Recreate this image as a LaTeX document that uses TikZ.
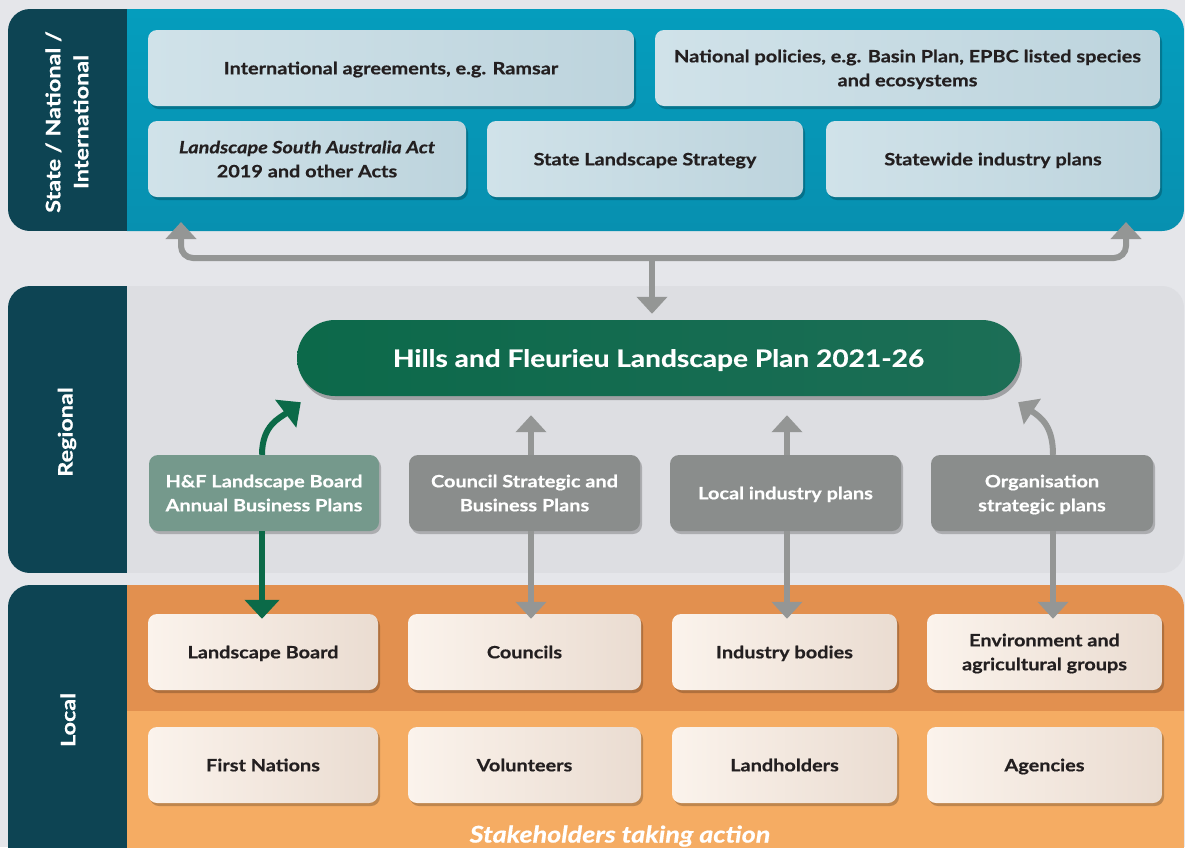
\documentclass[tikz,border=0pt]{standalone}
\usepackage{fontspec}
\setmainfont{Lato}[FakeStretch=1.17, BoldFeatures={FakeBold=0.6}, BoldItalicFeatures={FakeBold=0.6}]
\usetikzlibrary{arrows.meta,shadows,calc}

\definecolor{bgc}{HTML}{E5E6EA}
\definecolor{stripc}{HTML}{0D4453}
\definecolor{bluetop}{HTML}{059DBD}
\definecolor{bluebot}{HTML}{0790B0}
\definecolor{boxblueL}{HTML}{D0E2E9}
\definecolor{boxblueR}{HTML}{BDD4DD}
\definecolor{regpanel}{HTML}{DDDEE2}
\definecolor{pillL}{HTML}{0C694A}
\definecolor{pillR}{HTML}{1C6E56}
\definecolor{hfbox}{HTML}{75998C}
\definecolor{graybox}{HTML}{8A8D8C}
\definecolor{arrowgray}{HTML}{949695}
\definecolor{arrowgreen}{HTML}{0B6A48}
\definecolor{orangeup}{HTML}{E2904F}
\definecolor{orangelow}{HTML}{F5AC63}
\definecolor{creamL}{HTML}{FBF3EC}
\definecolor{creamR}{HTML}{EADCD1}
\definecolor{inkc}{HTML}{231F20}

\begin{document}
\begin{tikzpicture}[x=1pt,y=-1pt,
  boxtext/.style={font=\fontsize{17}{24}\selectfont\bfseries, align=center, text depth=-3pt},
  basebox/.style={rectangle, rounded corners=9pt, minimum height=76pt, inner sep=4pt, boxtext,
    drop shadow={shadow xshift=2pt, shadow yshift=-3pt, opacity=0.22, fill=black}},
  bluebox/.style={basebox, left color=boxblueL, right color=boxblueR, text=inkc},
  creambox/.style={basebox, left color=creamL, right color=creamR, text=inkc},
  planbox/.style={basebox, text=white, minimum width=230pt},
  sidelabel/.style={font=\fontsize{20}{28}\selectfont\bfseries, text=white, align=center, rotate=90},
  garrow/.style={draw=arrowgray, line width=6pt, -{Triangle[width=30pt,length=17pt]}},
  greenarrow/.style={draw=arrowgreen, line width=6pt, -{Triangle[width=34pt,length=19pt]}}
]
\useasboundingbox (0,0) rectangle (1185,847);
\clip (0,0) rectangle (1185,847);
\fill[bgc] (0,0) rectangle (1185,847);

% ---- state / national / international band
\begin{scope}
  \clip[rounded corners=22pt] (8,9) rectangle (1184,231);
  \fill[stripc] (8,9) rectangle (127,231);
  \shade[top color=bluetop, bottom color=bluebot] (127,9) rectangle (1184,231);
\end{scope}
% ---- regional band
\begin{scope}
  \clip[rounded corners=22pt] (8,286) rectangle (1184,573);
  \fill[stripc] (8,286) rectangle (127,573);
  \fill[regpanel] (127,286) rectangle (1184,573);
\end{scope}
% ---- local band
\begin{scope}
  \clip[rounded corners=22pt] (8,585) rectangle (1184,900);
  \fill[stripc] (8,585) rectangle (127,900);
  \fill[orangeup] (127,585) rectangle (1184,711);
  \fill[orangelow] (127,711) rectangle (1184,900);
\end{scope}

% side labels
\node[sidelabel] (lblstate) at (67,122) {State / National /\\International};
\node[sidelabel] (lblregion) at (67,432) {Regional};
\node[sidelabel] (lbllocal) at (68,720) {Local};

% state / national boxes
\node[bluebox, minimum width=486pt] (intl) at (391,68) {International agreements, e.g. Ramsar};
\node[bluebox, minimum width=505pt] (natpol) at (907.5,68) {National policies, e.g. Basin Plan, EPBC listed species\\and ecosystems};
\node[bluebox, minimum width=318pt] (lsaact) at (307,159) {\itshape Landscape South Australia Act\\2019 and other Acts};
\node[bluebox, minimum width=316pt] (strategy) at (645,159) {State Landscape Strategy};
\node[bluebox, minimum width=334pt] (statewide) at (993,159) {Statewide industry plans};

% central plan
\node[rectangle, rounded corners=38pt, minimum width=723pt, minimum height=76pt,
      left color=pillL, right color=pillR, text=white, text depth=-2pt,
      font=\fontsize{24}{28}\selectfont\bfseries,
      drop shadow={shadow xshift=2pt, shadow yshift=-4pt, opacity=0.28, fill=black}]
      (plan) at (658.5,358) {Hills and Fleurieu Landscape Plan 2021-26};

% regional plans
\node[planbox, fill=hfbox] (hfplans) at (264,493) {H\&F Landscape Board\\Annual Business Plans};
\node[planbox, fill=graybox, minimum width=231pt] (council) at (524.5,493) {Council Strategic and\\Business Plans};
\node[planbox, fill=graybox, minimum width=231pt] (localind) at (785.5,493) {Local industry plans};
\node[planbox, fill=graybox, minimum width=222pt] (orgplans) at (1042,493) {Organisation\\strategic plans};

% local stakeholders
\node[creambox, minimum width=230pt] (board) at (263,652) {Landscape Board};
\node[creambox, minimum width=233pt] (councils) at (524.5,652) {Councils};
\node[creambox, minimum width=225pt] (indbodies) at (784.5,652) {Industry bodies};
\node[creambox, minimum width=235pt] (envgroups) at (1044.5,652) {Environment and\\agricultural groups};
\node[creambox, minimum width=230pt] (firstnat) at (263,765) {First Nations};
\node[creambox, minimum width=233pt] (volunteers) at (524.5,765) {Volunteers};
\node[creambox, minimum width=225pt] (landholders) at (784.5,765) {Landholders};
\node[creambox, minimum width=235pt] (agencies) at (1044.5,765) {Agencies};

\node[font=\fontsize{23}{26}\selectfont\bfseries\itshape, text=white, text depth=0pt] (stake) at (620,834) {Stakeholders taking action};

% connector between the state band and the plan
\coordinate (brL) at (181,222);
\coordinate (brR) at (1126,222);
\coordinate (brM) at (652,258);
\draw[garrow, {Triangle[width=30pt,length=17pt]}-{Triangle[width=30pt,length=17pt]}, rounded corners=12pt]
  (brL) |- (brM) -| (brR);
\draw[garrow, shorten >=6pt] (brM) -- (brM |- plan.north);

% regional plans up to the plan
\draw[greenarrow] ([xshift=-2pt]hfplans.north) .. controls ([shift={(-2,-30)}]hfplans.north) and (280,418) .. ([shift={(4,6)}]plan.south west);
\draw[garrow, shorten >=19pt] ([xshift=6.5pt]council.north) -- ([xshift=6.5pt]council.north |- plan.south);
\draw[garrow, shorten >=19pt] ([xshift=1.5pt]localind.north) -- ([xshift=1.5pt]localind.north |- plan.south);
\draw[garrow] ([xshift=11pt]orgplans.north) .. controls ([shift={(11,-28)}]orgplans.north) and (1042,418) .. ([shift={(-2,6)}]plan.south east);

% regional plans down to the stakeholders
\draw[greenarrow, shorten >=-5pt] ([xshift=-2pt]hfplans.south) -- ([xshift=-2pt]hfplans.south |- board.north);
\draw[garrow, shorten >=-5pt] ([xshift=6.5pt]council.south) -- ([xshift=6.5pt]council.south |- councils.north);
\draw[garrow, shorten >=-5pt] ([xshift=1.5pt]localind.south) -- ([xshift=1.5pt]localind.south |- indbodies.north);
\draw[garrow, shorten >=-5pt] ([xshift=11pt]orgplans.south) -- ([xshift=11pt]orgplans.south |- envgroups.north);
\end{tikzpicture}
\end{document}
